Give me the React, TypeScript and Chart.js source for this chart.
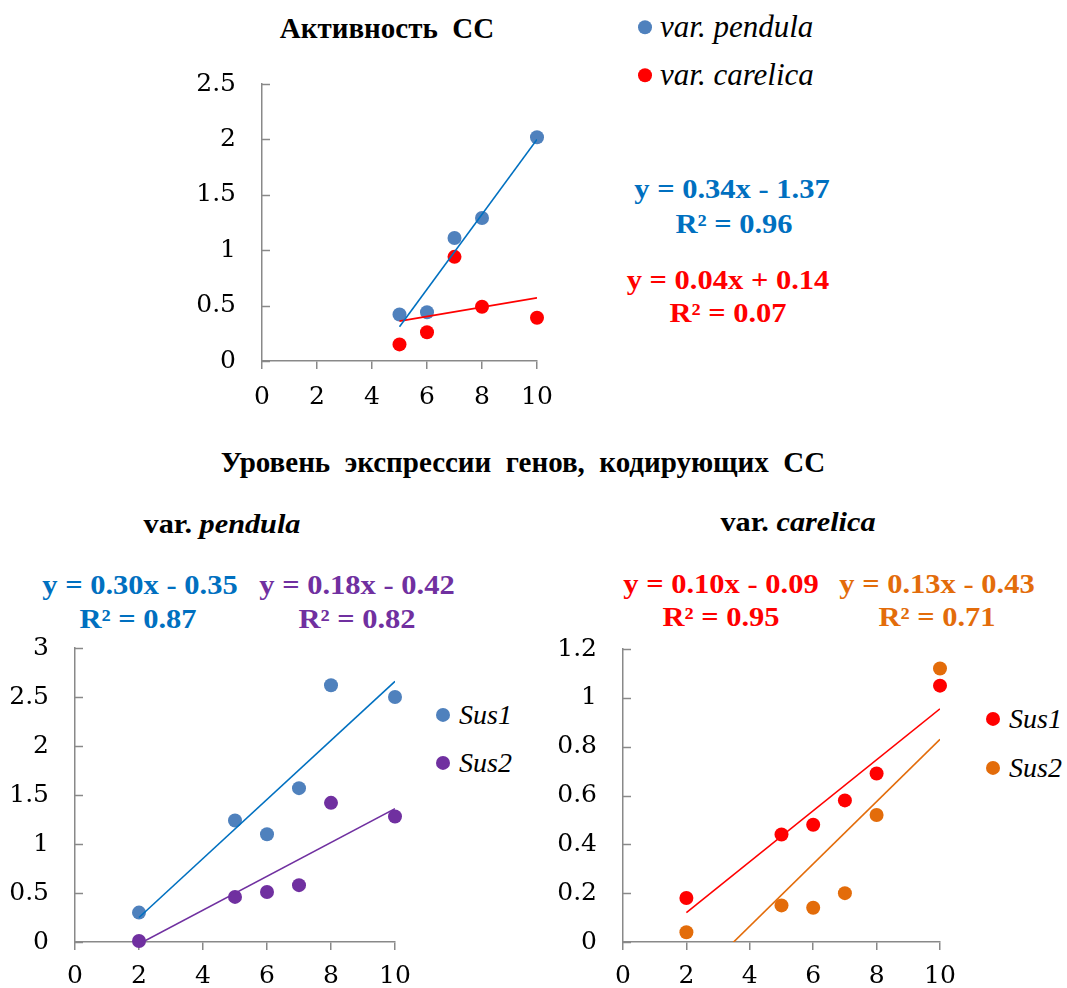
import React, { useEffect, useRef } from "react";
import { Chart, registerables } from "chart.js";

Chart.register(...registerables);

const FONT = "'Liberation Serif', 'Times New Roman', serif";
const TICK_FONT = "'DejaVu Serif', 'Liberation Serif', serif";
const AXIS = "#898989";

// ---------- Top chart: Активность СС ----------
const topX = [5, 6, 7, 8, 10];
const topPendula = [0.42, 0.44, 1.11, 1.29, 2.02];
const topCarelica = [0.15, 0.26, 0.94, 0.49, 0.39];
const topTrendX = [5, 10];
const topPendulaTrend = [0.31, 2.0];
const topCarelicaTrend = [0.36, 0.57];
const topYTicks = [0, 0.5, 1, 1.5, 2, 2.5];

// ---------- Bottom charts: gene expression ----------
const botX = [2, 5, 6, 7, 8, 10];
const pendulaSus1 = [0.3, 1.24, 1.1, 1.57, 2.62, 2.5];
const pendulaSus2 = [0.01, 0.46, 0.51, 0.58, 1.42, 1.28];
const carelicaSus1 = [0.18, 0.44, 0.48, 0.58, 0.69, 1.05];
const carelicaSus2 = [0.04, 0.15, 0.14, 0.2, 0.52, 1.12];
const botTrendX = [2, 10];
const pendulaSus1Trend = [0.25, 2.66];
const pendulaSus2Trend = [-0.02, 1.36];
const carelicaSus1Trend = [0.12, 0.955];
const carelicaSus2Trend = [-0.19, 0.83];
const pendulaYTicks = [0, 0.5, 1, 1.5, 2, 2.5, 3];
const carelicaYTicks = [0, 0.2, 0.4, 0.6, 0.8, 1, 1.2];

const xTicks = [0, 2, 4, 6, 8, 10];

const BLUE_PT = "#4F81BD";
const BLUE_LN = "#0070C0";
const RED = "#FF0000";
const PURPLE = "#7030A0";
const ORANGE = "#E36C0A";

const TICK_SIZE = 25;
const RIGHT_PAD = 40;

const pts = (xs: number[], ys: number[]) => xs.map((x, i) => ({ x, y: ys[i] }));

const pointDs = (label: string, xs: number[], ys: number[], color: string) => ({
  label,
  data: pts(xs, ys),
  backgroundColor: color,
  borderColor: color,
  borderWidth: 0,
  pointRadius: 7,
  pointHoverRadius: 7,
  showLine: false,
  clip: false as any,
});

const trendDs = (label: string, xs: number[], ys: number[], color: string) => ({
  label,
  data: pts(xs, ys),
  borderColor: color,
  backgroundColor: color,
  borderWidth: 1.6,
  pointRadius: 0,
  showLine: true,
  fill: false,
});

const innerYTicks = {
  id: "innerYTicks",
  beforeDatasetsDraw(chart: any) {
    const { ctx, chartArea, scales } = chart;
    const y = scales.y;
    ctx.save();
    ctx.strokeStyle = AXIS;
    ctx.lineWidth = 1.5;
    y.ticks.forEach((t: any) => {
      const py = Math.round(y.getPixelForValue(t.value)) + 0.5;
      ctx.beginPath();
      ctx.moveTo(chartArea.left - 1, py);
      ctx.lineTo(chartArea.left + 8, py);
      ctx.stroke();
    });
    ctx.restore();
  },
};

type Area = { left: number; top: number; right: number; bottom: number };

const fmt = (v: number) => String(Math.round(v * 10) / 10);

function ScatterChart(props: {
  left: number;
  area: Area;
  yTicks: number[];
  yGap: number;
  xPad: number;
  xAxisHeight: number;
  datasets: any[];
}) {
  const ref = useRef<HTMLCanvasElement>(null);
  const width = props.area.right - props.left + RIGHT_PAD;
  const initTop = props.area.top - 20;
  const initHeight = props.area.bottom - initTop + props.xAxisHeight;
  useEffect(() => {
    const { left, area, yTicks, yGap, xPad, xAxisHeight, datasets } = props;
    const canvas = ref.current as HTMLCanvasElement;
    const yAxisWidth = area.left - left;
    const chart = new Chart(canvas, {
      type: "scatter",
      data: { datasets },
      options: {
        animation: false,
        responsive: false,
        maintainAspectRatio: false,
        events: [],
        layout: {
          padding: { left: 0, top: 0, right: RIGHT_PAD, bottom: 0 },
        },
        plugins: { legend: { display: false }, tooltip: { enabled: false }, title: { display: false } },
        scales: {
          x: {
            type: "linear",
            min: 0,
            max: 10,
            afterBuildTicks: (s: any) => {
              s.ticks = xTicks.map((v) => ({ value: v }));
            },
            ticks: {
              color: "#000",
              font: { family: TICK_FONT, size: TICK_SIZE },
              padding: xPad,
              maxRotation: 0,
              callback: (v: any) => fmt(Number(v)),
            },
            grid: {
              display: true,
              drawOnChartArea: false,
              drawTicks: true,
              tickLength: 8,
              color: AXIS,
              lineWidth: 1.5,
            },
            border: { display: true, color: AXIS, width: 1.5 },
            afterFit: (s: any) => {
              s.height = xAxisHeight;
            },
          },
          y: {
            type: "linear",
            min: yTicks[0],
            max: yTicks[yTicks.length - 1],
            afterBuildTicks: (s: any) => {
              s.ticks = yTicks.map((v) => ({ value: v }));
            },
            ticks: {
              color: "#000",
              font: { family: TICK_FONT, size: TICK_SIZE },
              padding: yGap,
              callback: (v: any) => fmt(Number(v)),
            },
            grid: { display: false, drawTicks: false },
            border: { display: true, color: AXIS, width: 1.5 },
            afterFit: (s: any) => {
              s.width = yAxisWidth;
            },
          },
        },
      } as any,
      plugins: [innerYTicks],
    });
    // Align the plot area exactly with the target rectangle on the page.
    let curTop = initTop;
    let curH = initHeight;
    let curW = width;
    let curLeft = left;
    for (let i = 0; i < 4; i++) {
      const ca = chart.chartArea;
      const needTop = area.top - ca.top;
      const needH = Math.round(ca.top + (area.bottom - area.top) + xAxisHeight);
      const needLeft = area.left - ca.left;
      const needW = Math.round(ca.left + (area.right - area.left) + (curW - ca.right));
      if (
        Math.abs(needTop - curTop) < 0.5 &&
        Math.abs(needH - curH) < 0.5 &&
        Math.abs(needLeft - curLeft) < 0.5 &&
        Math.abs(needW - curW) < 0.5
      )
        break;
      curTop = needTop;
      curH = needH;
      curLeft = needLeft;
      curW = needW;
      canvas.style.top = curTop + "px";
      canvas.style.left = curLeft + "px";
      chart.resize(curW, curH);
    }
    return () => chart.destroy();
  }, []);
  return (
    <canvas
      ref={ref}
      width={width}
      height={initHeight}
      style={{ position: "absolute", left: props.left, top: initTop, width: width, height: initHeight }}
    />
  );
}

function Txt(props: {
  x: number;
  y: number;
  size: number;
  color?: string;
  bold?: boolean;
  sx?: number;
  children: any;
}) {
  return (
    <div
      style={{
        position: "absolute",
        left: props.x,
        top: props.y,
        transform: `translate(-50%, -50%) scaleX(${props.sx || 1})`,
        fontFamily: FONT,
        fontSize: props.size,
        fontWeight: props.bold ? "bold" : "normal",
        color: props.color || "#000",
        whiteSpace: "pre",
        lineHeight: 1.15,
      }}
    >
      {props.children}
    </div>
  );
}

function LegendItem(props: {
  x: number;
  y: number;
  color: string;
  label: string;
  size: number;
  gap: number;
}) {
  return (
    <div
      style={{
        position: "absolute",
        left: props.x - 7,
        top: props.y,
        transform: "translateY(-50%)",
        display: "flex",
        alignItems: "center",
        fontFamily: FONT,
        fontStyle: "italic",
        fontSize: props.size,
        whiteSpace: "pre",
        lineHeight: 1.15,
      }}
    >
      <span
        style={{
          display: "inline-block",
          width: 14,
          height: 14,
          borderRadius: 7,
          background: props.color,
          marginRight: props.gap,
        }}
      />
      <span>{props.label}</span>
    </div>
  );
}

const EQ = 27;
const EQX = 1.13;

export default function App() {
  return (
    <div
      style={{
        position: "absolute",
        left: 0,
        top: 0,
        width: 1067,
        height: 988,
        overflow: "hidden",
        background: "#fff",
      }}
    >
      {/* Top chart */}
      <Txt x={387} y={29} size={29} bold>
        {"Активность  СС"}
      </Txt>
      <LegendItem x={645} y={27} color={BLUE_PT} label="var. pendula" size={31} gap={8} />
      <LegendItem x={645} y={75} color={RED} label="var. carelica" size={31} gap={8} />
      <ScatterChart
        left={160}
        area={{ left: 262, top: 84, right: 537, bottom: 361 }}
        yTicks={topYTicks}
        yGap={26}
        xPad={13}
        xAxisHeight={60}
        datasets={[
          trendDs("pendula trend", topTrendX, topPendulaTrend, BLUE_LN),
          trendDs("carelica trend", topTrendX, topCarelicaTrend, RED),
          pointDs("var. carelica", topX, topCarelica, RED),
          pointDs("var. pendula", topX, topPendula, BLUE_PT),
        ]}
      />
      <Txt x={732} y={190} size={EQ} bold color={BLUE_LN} sx={EQX}>
        {"y = 0.34x - 1.37"}
      </Txt>
      <Txt x={734} y={225} size={EQ} bold color={BLUE_LN} sx={EQX}>
        {"R² = 0.96"}
      </Txt>
      <Txt x={728} y={281} size={EQ} bold color={RED} sx={EQX}>
        {"y = 0.04x + 0.14"}
      </Txt>
      <Txt x={728} y={314} size={EQ} bold color={RED} sx={EQX}>
        {"R² = 0.07"}
      </Txt>

      {/* Bottom title */}
      <Txt x={523} y={463} size={29} bold>
        {"Уровень  экспрессии  генов,  кодирующих  СС"}
      </Txt>

      {/* Bottom left: var. pendula */}
      <Txt x={222} y={524} size={28} bold sx={1.08}>
        <span>var. </span>
        <span style={{ fontStyle: "italic" }}>pendula</span>
      </Txt>
      <Txt x={140} y={586} size={EQ} bold color={BLUE_LN} sx={EQX}>
        {"y = 0.30x - 0.35"}
      </Txt>
      <Txt x={138} y={620} size={EQ} bold color={BLUE_LN} sx={EQX}>
        {"R² = 0.87"}
      </Txt>
      <Txt x={357} y={586} size={EQ} bold color={PURPLE} sx={EQX}>
        {"y = 0.18x - 0.42"}
      </Txt>
      <Txt x={357} y={620} size={EQ} bold color={PURPLE} sx={EQX}>
        {"R² = 0.82"}
      </Txt>
      <ScatterChart
        left={0}
        area={{ left: 75, top: 648, right: 395, bottom: 942 }}
        yTicks={pendulaYTicks}
        yGap={26}
        xPad={11}
        xAxisHeight={70}
        datasets={[
          trendDs("Sus1 trend", botTrendX, pendulaSus1Trend, BLUE_LN),
          trendDs("Sus2 trend", botTrendX, pendulaSus2Trend, PURPLE),
          pointDs("Sus1", botX, pendulaSus1, BLUE_PT),
          pointDs("Sus2", botX, pendulaSus2, PURPLE),
        ]}
      />
      <LegendItem x={443} y={715} color={BLUE_PT} label="Sus1" size={28} gap={9} />
      <LegendItem x={443} y={763} color={PURPLE} label="Sus2" size={28} gap={9} />

      {/* Bottom right: var. carelica */}
      <Txt x={798} y={522} size={28} bold sx={1.08}>
        <span>var. </span>
        <span style={{ fontStyle: "italic" }}>carelica</span>
      </Txt>
      <Txt x={721} y={585} size={EQ} bold color={RED} sx={EQX}>
        {"y = 0.10x - 0.09"}
      </Txt>
      <Txt x={721} y={618} size={EQ} bold color={RED} sx={EQX}>
        {"R² = 0.95"}
      </Txt>
      <Txt x={937} y={585} size={EQ} bold color={ORANGE} sx={EQX}>
        {"y = 0.13x - 0.43"}
      </Txt>
      <Txt x={937} y={618} size={EQ} bold color={ORANGE} sx={EQX}>
        {"R² = 0.71"}
      </Txt>
      <ScatterChart
        left={530}
        area={{ left: 623, top: 649, right: 940, bottom: 942 }}
        yTicks={carelicaYTicks}
        yGap={26}
        xPad={11}
        xAxisHeight={70}
        datasets={[
          trendDs("Sus1 trend", botTrendX, carelicaSus1Trend, RED),
          trendDs("Sus2 trend", botTrendX, carelicaSus2Trend, ORANGE),
          pointDs("Sus1", botX, carelicaSus1, RED),
          pointDs("Sus2", botX, carelicaSus2, ORANGE),
        ]}
      />
      <LegendItem x={993} y={719} color={RED} label="Sus1" size={28} gap={9} />
      <LegendItem x={993} y={768} color={ORANGE} label="Sus2" size={28} gap={9} />
    </div>
  );
}
